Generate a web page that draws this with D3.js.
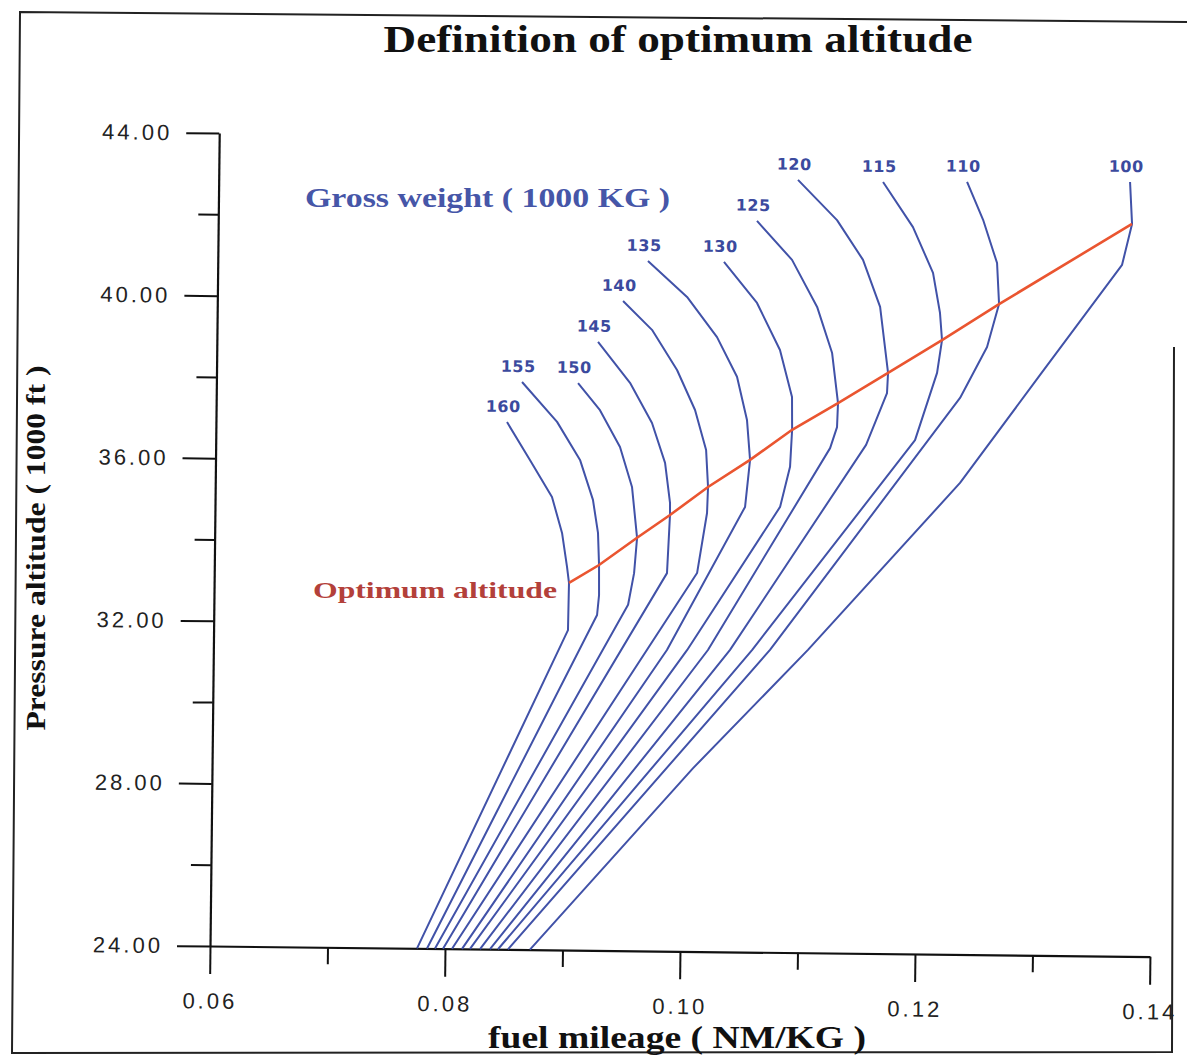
<!DOCTYPE html>
<html>
<head>
<meta charset="utf-8">
<script src="https://cdn.jsdelivr.net/npm/d3@7/dist/d3.min.js"></script>
<style>
	body { margin: 0; background: #fff; }
	svg { display: block; }
</style>
</head>
<body>
<div id="chart"></div>
<script>
// gross weight of each curve (1000 kg)
const grossWeights = [160, 155, 150, 145, 140, 135, 130, 125, 120, 115, 110, 100];

// fuel mileage (NM/kg) along each curve, top to bottom
const mileage = [
	[0.08477, 0.08677, 0.08867, 0.08956, 0.09002, 0.0902, 0.09016, 0.07762],
	[0.08601, 0.08903, 0.09102, 0.09216, 0.09262, 0.09274, 0.09277, 0.09262, 0.07847],
	[0.09078, 0.09267, 0.09441, 0.09547, 0.09595, 0.09573, 0.09525, 0.07915],
	[0.09244, 0.0952, 0.09711, 0.09826, 0.09872, 0.09873, 0.09853, 0.07983],
	[0.09453, 0.09702, 0.09919, 0.10076, 0.10174, 0.10194, 0.10188, 0.10109, 0.0806],
	[0.09661, 0.09997, 0.10256, 0.1043, 0.10519, 0.10549, 0.10511, 0.0986, 0.08145],
	[0.10308, 0.10593, 0.10793, 0.109, 0.10904, 0.1089, 0.10809, 0.10031, 0.08213],
	[0.10585, 0.10887, 0.11105, 0.11237, 0.11292, 0.11286, 0.11229, 0.10209, 0.08298],
	[0.1093, 0.11266, 0.11491, 0.11641, 0.11715, 0.11708, 0.11535, 0.10397, 0.08383],
	[0.11654, 0.11913, 0.12088, 0.12151, 0.12171, 0.12132, 0.11951, 0.10584, 0.08451],
	[0.12369, 0.12509, 0.12632, 0.12653, 0.12555, 0.1233, 0.10737, 0.08536],
	[0.13756, 0.13777, 0.13696, 0.13009, 0.12338, 0.1106, 0.10094, 0.08723]
];

// pressure altitude (1000 ft) matching the mileage points
const altitude = [
	[36.97, 36.04, 35.14, 34.26, 33.42, 33.03, 31.87, 24],
	[37.96, 36.99, 36.06, 35.08, 34.27, 33.48, 32.74, 32.25, 24],
	[37.95, 37.29, 36.39, 35.41, 34.16, 33.29, 32.51, 24],
	[38.97, 37.97, 36.99, 36.01, 35.03, 34.73, 33.30, 24],
	[39.98, 39.28, 38.30, 37.32, 36.34, 35.43, 34.79, 33.31, 24],
	[40.97, 40.10, 39.12, 38.15, 37.09, 36.11, 34.95, 31.41, 24],
	[40.97, 39.97, 38.82, 37.67, 36.86, 35.95, 34.96, 31.41, 24],
	[41.99, 41.04, 39.89, 38.76, 37.53, 36.94, 36.42, 31.42, 24],
	[43.01, 42.03, 41.06, 39.91, 38.29, 37.79, 36.51, 31.43, 24],
	[42.98, 41.88, 40.76, 39.78, 39.11, 38.30, 36.64, 31.43, 24],
	[43.01, 42.08, 41.02, 40.01, 38.95, 37.69, 31.44, 24],
	[43.05, 42.02, 41.01, 38.28, 35.60, 31.45, 28.51, 24]
];

// optimum altitude line (best mileage point of every weight)
const optMileage = [0.0902, 0.09274, 0.09595, 0.09873, 0.10194, 0.10549, 0.10904, 0.11292, 0.11715, 0.12171, 0.12653, 0.13777];
const optAltitude = [33.03, 33.48, 34.16, 34.73, 35.43, 36.11, 36.86, 37.53, 38.29, 39.11, 40.01, 42.02];

const xTickValues = [0.06, 0.07, 0.08, 0.09, 0.10, 0.11, 0.12, 0.13, 0.14];
const yTickValues = [24, 26, 28, 30, 32, 34, 36, 38, 40, 42, 44];

const width = 1187;
const height = 1060;
const originX = 210;
const originY = 946;
const plotW = 940;
const plotH = 813;
const tilt = 0.65; // the scanned sheet sits slightly crooked

const blue = "#4152a8";
const labelBlue = "#3b4a9e";
const red = "#ea5530";
const darkRed = "#b3403a";
const serif = "'Liberation Serif', 'Times New Roman', serif";
const sans = "'Liberation Sans', Arial, sans-serif";

const svg = d3.select("#chart")
	.append("svg")
	.attr("width", width)
	.attr("height", height);

svg.append("rect").attr("width", width).attr("height", height).attr("fill", "#fff");

// scan frame
svg.append("path")
	.attr("d", "M1187,22 L20,12 L12,1053 L1172,1052 L1174,347")
	.attr("fill", "none")
	.attr("stroke", "#222")
	.attr("stroke-width", 2);

svg.append("text")
	.attr("x", 678)
	.attr("y", 52)
	.attr("text-anchor", "middle")
	.attr("font-family", serif)
	.attr("font-weight", "bold")
	.attr("font-size", 37)
	.attr("textLength", 589)
	.attr("lengthAdjust", "spacingAndGlyphs")
	.attr("fill", "#111")
	.text("Definition of optimum altitude");

svg.append("text")
	.attr("transform", "translate(45,548) rotate(-90)")
	.attr("text-anchor", "middle")
	.attr("font-family", serif)
	.attr("font-weight", "bold")
	.attr("font-size", 27)
	.attr("textLength", 365)
	.attr("lengthAdjust", "spacingAndGlyphs")
	.attr("fill", "#111")
	.text("Pressure altitude ( 1000 ft )");

svg.append("text")
	.attr("x", 677)
	.attr("y", 1048)
	.attr("text-anchor", "middle")
	.attr("font-family", serif)
	.attr("font-weight", "bold")
	.attr("font-size", 31)
	.attr("textLength", 378)
	.attr("lengthAdjust", "spacingAndGlyphs")
	.attr("fill", "#111")
	.text("fuel mileage ( NM/KG )");

const plot = svg.append("g")
	.attr("transform", `rotate(${tilt},${originX},${originY}) translate(${originX},${originY - plotH})`);

const xScale = d3.scaleLinear().domain([0.06, 0.14]).range([0, plotW]);
const yScale = d3.scaleLinear().domain([24, 44]).range([plotH, 0]);

const xAxis = d3.axisBottom(xScale)
	.tickValues(xTickValues)
	.tickSizeOuter(0)
	.tickFormat((d, i) => (i % 2 === 0 ? d3.format(".2f")(d) : ""));

plot.append("g")
	.attr("class", "x-axis")
	.attr("transform", `translate(0,${plotH})`)
	.call(xAxis)
	.call((g) => g.select(".domain").attr("stroke", "#111").attr("stroke-width", 2.2))
	.call((g) => g.selectAll(".tick line")
		.attr("stroke", "#111")
		.attr("stroke-width", 2)
		.attr("y2", (d, i) => (i % 2 === 0 ? 28 : 17)))
	.call((g) => g.selectAll(".tick text")
		.attr("y", 47)
		.attr("font-family", sans)
		.attr("font-size", 22)
		.attr("letter-spacing", 3)
		.attr("fill", "#222"));

const yAxis = d3.axisLeft(yScale)
	.tickValues(yTickValues)
	.tickSizeOuter(0)
	.tickFormat((d, i) => (i % 2 === 0 ? d3.format(".2f")(d) : ""));

plot.append("g")
	.attr("class", "y-axis")
	.call(yAxis)
	.call((g) => g.select(".domain").attr("stroke", "#111").attr("stroke-width", 2.2))
	.call((g) => g.selectAll(".tick line")
		.attr("stroke", "#111")
		.attr("stroke-width", 2)
		.attr("x2", (d, i) => (i % 2 === 0 ? -33 : -20)))
	.call((g) => g.selectAll(".tick text")
		.attr("x", -47)
		.attr("font-family", sans)
		.attr("font-size", 22)
		.attr("letter-spacing", 3)
		.attr("fill", "#222"));

const line = d3.line()
	.x((d) => xScale(d[0]))
	.y((d) => yScale(d[1]));

const curves = grossWeights.map((w, i) => ({
	weight: w,
	points: mileage[i].map((m, j) => [m, altitude[i][j]])
}));

plot.append("g")
	.attr("class", "weight-curves")
	.selectAll("path")
	.data(curves)
	.join("path")
	.attr("d", (d) => line(d.points))
	.attr("fill", "none")
	.attr("stroke", blue)
	.attr("stroke-width", 2)
	.attr("stroke-linejoin", "round");

plot.append("path")
	.attr("class", "optimum")
	.attr("d", line(optMileage.map((m, i) => [m, optAltitude[i]])))
	.attr("fill", "none")
	.attr("stroke", red)
	.attr("stroke-width", 2.6);

plot.append("g")
	.attr("class", "weight-labels")
	.selectAll("text")
	.data(curves)
	.join("text")
	.attr("x", (d) => xScale(d.points[0][0]) - 4)
	.attr("y", (d) => yScale(d.points[0][1]) - 10)
	.attr("text-anchor", "middle")
	.attr("font-family", "'DejaVu Sans', sans-serif")
	.attr("font-weight", "bold")
	.attr("font-size", 16)
	.attr("letter-spacing", 0.5)
	.attr("fill", labelBlue)
	.text((d) => d.weight);

svg.append("text")
	.attr("x", 305)
	.attr("y", 207)
	.attr("font-family", serif)
	.attr("font-weight", "bold")
	.attr("font-size", 28)
	.attr("textLength", 365)
	.attr("lengthAdjust", "spacingAndGlyphs")
	.attr("fill", "#4656a8")
	.text("Gross weight ( 1000 KG )");

svg.append("text")
	.attr("x", 313)
	.attr("y", 598)
	.attr("font-family", serif)
	.attr("font-weight", "bold")
	.attr("font-size", 23)
	.attr("textLength", 244)
	.attr("lengthAdjust", "spacingAndGlyphs")
	.attr("fill", darkRed)
	.text("Optimum altitude");
</script>
</body>
</html>
